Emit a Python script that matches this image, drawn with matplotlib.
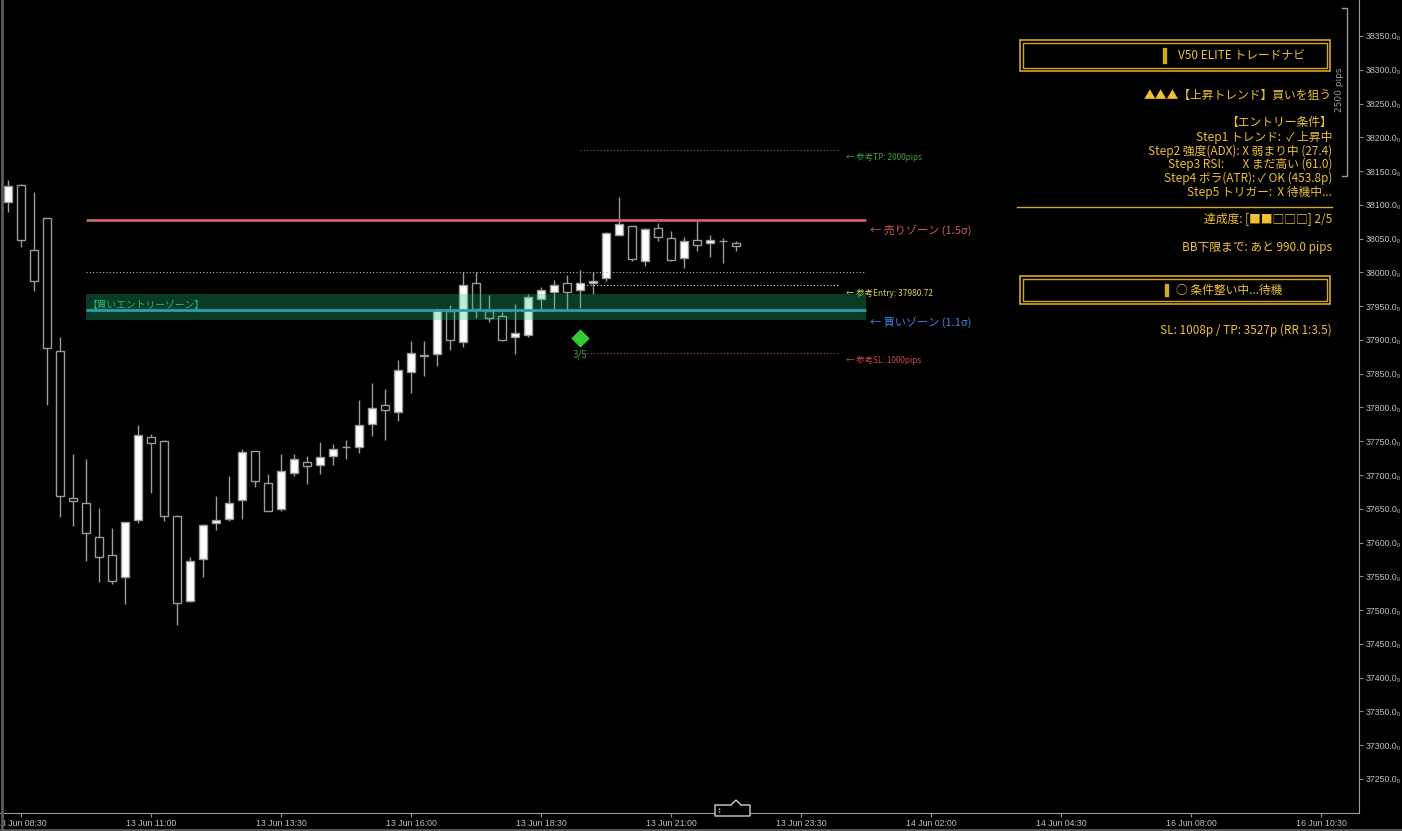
import matplotlib
matplotlib.use("Agg")
import matplotlib.pyplot as plt
from matplotlib.patches import Rectangle, Polygon
import numpy as np

plt.rcParams['font.family'] = ['Noto Sans CJK JP', 'DejaVu Sans']

# 15 min candles, 13 Jun 08:15 onwards
opens = [38104, 38130, 38033, 38080, 37883, 37666, 37659, 37608, 37581, 37549,
         37633, 37756, 37751, 37640, 37514, 37575, 37629, 37635, 37663, 37735,
         37688, 37650, 37703, 37720, 37715, 37728, 37741, 37741, 37775, 37803,
         37793, 37853, 37876, 37879, 37943, 37897, 37984, 37943, 37935, 37905,
         37908, 37960, 37971, 37984, 37974, 37984, 37991, 38056, 38068, 38017,
         38065, 38051, 38021, 38048, 38043, 38046, 38043]
highs = [38137, 38131, 38119, 38081, 37904, 37731, 37724, 37651, 37621, 37631,
         37774, 37761, 37752, 37641, 37578, 37627, 37669, 37699, 37739, 37736,
         37702, 37731, 37731, 37728, 37749, 37746, 37752, 37811, 37836, 37828,
         37871, 37898, 37898, 37948, 37952, 38001, 38001, 37967, 37941, 37953,
         37968, 37978, 37989, 37996, 38004, 38001, 38060, 38112, 38069, 38065,
         38073, 38061, 38053, 38076, 38056, 38051, 38046]
lows = [38090, 38038, 37973, 37803, 37638, 37625, 37573, 37542, 37538, 37509,
        37629, 37673, 37632, 37478, 37512, 37549, 37618, 37632, 37635, 37683,
        37646, 37647, 37698, 37686, 37701, 37715, 37723, 37733, 37758, 37752,
        37780, 37822, 37846, 37862, 37885, 37890, 37933, 37926, 37898, 37879,
        37905, 37945, 37945, 37945, 37948, 37968, 37988, 38056, 38017, 38010,
        38047, 38017, 38006, 38031, 38023, 38014, 38032]
closes = [38128, 38048, 37988, 37888, 37669, 37662, 37614, 37578, 37543, 37630,
          37759, 37748, 37639, 37510, 37573, 37626, 37633, 37658, 37734, 37691,
          37647, 37706, 37723, 37713, 37726, 37738, 37741, 37774, 37799, 37796,
          37855, 37880, 37877, 37944, 37900, 37981, 37946, 37933, 37900, 37911,
          37963, 37974, 37981, 37971, 37985, 37988, 38058, 38071, 38020, 38064,
          38053, 38018, 38046, 38040, 38048, 38046, 38039]

tick_pos = [1, 11, 21, 31, 41, 51, 61, 71, 81, 91, 101]
tick_labels = ["13 Jun 08:30", "13 Jun 11:00", "13 Jun 13:30", "13 Jun 16:00",
               "13 Jun 18:30", "13 Jun 21:00", "13 Jun 23:30", "14 Jun 02:00",
               "14 Jun 04:30", "16 Jun 08:00", "16 Jun 10:30"]
price_ticks = list(range(37250, 38351, 50))

sell_zone = 38077.6
buy_zone = 37944.8
buy_band_low, buy_band_high = 37930.0, 37967.6
round_level = 38000.0
entry = 37980.72
tp = entry + 200.0
sl = entry - 100.0
zone_start, zone_end = 6, 66
ref_start, ref_end = 44, 64
signal_bar, signal_price = 44, 37903

panel_lines = [
    ("▲▲▲【上昇トレンド】買いを狙う", 95),
    ("【エントリー条件】", 122),
    ("Step1 トレンド:  ✓ 上昇中", 137),
    ("Step2 強度(ADX): X 弱まり中 (27.4)", 151),
    ("Step3 RSI:       X まだ高い (61.0)", 164),
    ("Step4 ボラ(ATR): ✓ OK (453.8p)", 178),
    ("Step5 トリガー:  X 待機中...", 192),
    ("達成度: [■■□□□] 2/5", 219),
    ("BB下限まで: あと 990.0 pips", 248),
    ("SL: 1008p / TP: 3527p (RR 1:3.5)", 330),
]

gold = '#f0c030'
gold_line = '#d8a824'
gray = '#9a9a9a'
axis_font = ['Liberation Sans', 'DejaVu Sans']

fig = plt.figure(figsize=(14.02, 8.31), dpi=100, facecolor='black')
ax = fig.add_axes([0, 18 / 831, 1359 / 1402, 813 / 831], facecolor='black')

# candles
for i in range(len(opens)):
    o, h, l, c = opens[i], highs[i], lows[i], closes[i]
    ax.vlines(i, l, h, color=gray, lw=1, zorder=2)
    bottom = min(o, c)
    height = max(abs(c - o), 1.0)
    face = 'white' if c > o else 'black'
    ax.add_patch(Rectangle((i - 0.32, bottom), 0.64, height, facecolor=face,
                           edgecolor=gray, lw=1, zorder=3))

# zones and levels
ax.add_patch(Rectangle((zone_start, buy_band_low), zone_end - zone_start,
                       buy_band_high - buy_band_low, facecolor='#22c57e',
                       alpha=0.3, lw=0, zorder=5))
ax.hlines(sell_zone, zone_start, zone_end, color='#c86464', lw=2, zorder=6)
ax.hlines(buy_zone, zone_start, zone_end, color='#2a9fb0', lw=2, zorder=6)
ax.hlines(round_level, zone_start, zone_end, color='#bdbdbd', lw=0.8,
          linestyles=(0, (1, 2)), zorder=4)
ax.hlines(entry, ref_start, ref_end, color='#e6e6b0', lw=0.8, linestyles=(0, (1, 2)), zorder=4)
ax.hlines(tp, ref_start, ref_end, color='#3a9a3a', lw=0.8, linestyles=(0, (1, 2)), zorder=4)
ax.hlines(sl, ref_start, ref_end, color='#b05050', lw=0.8, linestyles=(0, (1, 2)), zorder=4)

ax.text(zone_start + 0.1, (buy_band_low + buy_band_high) / 2 + 3, "【買いエントリーゾーン】",
        color='#1fbf74', fontsize=7, va='center', ha='left', zorder=7)
ax.text(zone_end + 0.3, sell_zone - 15, "← 売りゾーン (1.5σ)", color='#d45a5a',
        fontsize=8, va='center', ha='left')
ax.text(zone_end + 0.3, buy_zone - 18, "← 買いゾーン (1.1σ)", color='#3a86e0',
        fontsize=8, va='center', ha='left')
ax.text(ref_end + 0.4, tp - 11, "← 参考TP: 2000pips", color='#3fa03f',
        fontsize=6, va='center', ha='left')
ax.text(ref_end + 0.4, entry - 11, f"← 参考Entry: {entry:.2f}", color='#d8d840',
        fontsize=6, va='center', ha='left')
ax.text(ref_end + 0.4, sl - 11, "← 参考SL: 1000pips", color='#c84a4a',
        fontsize=6, va='center', ha='left')

ax.scatter([signal_bar], [signal_price], marker='D', s=70, color='#33cc33', zorder=8)
ax.text(signal_bar, signal_price - 25, "3/5", color='#2faa2f', fontsize=7,
        ha='center', va='center')

ax.set_xlim(-0.64, 103.9)
ax.set_ylim(37199.6, 38403.3)
ax.set_xticks(tick_pos)
ax.set_xticklabels(tick_labels, family=axis_font)
ax.yaxis.tick_right()
ax.set_yticks(price_ticks)
ax.set_yticklabels([f"{v:.1f}₀" for v in price_ticks], family=axis_font)
ax.tick_params(axis='both', colors='#8a8a8a', labelcolor='#c0c0c0', labelsize=6.3,
               length=3, width=0.8)
ax.tick_params(axis='y', pad=1.5)
ax.tick_params(axis='x', pad=1.5)
for s in ['left', 'top']:
    ax.spines[s].set_visible(False)
for s in ['right', 'bottom']:
    ax.spines[s].set_color('#9a9a9a')

# info panel overlay in pixel coordinates
ov = fig.add_axes([0, 0, 1, 1])
ov.set_xlim(0, 1402)
ov.set_ylim(831, 0)
ov.axis('off')
ov.patch.set_alpha(0)

for y0, h, label, cx in [(40, 31, "V50 ELITE トレードナビ", 1241), (276, 28, "○ 条件整い中...待機", 1229)]:
    ov.add_patch(Rectangle((1020, y0), 310, h, fill=False, ec=gold_line, lw=1.2))
    ov.add_patch(Rectangle((1023, y0 + 3), 304, h - 6, fill=False, ec=gold_line, lw=1.0))
    ov.add_patch(Rectangle((1163 if cx == 1241 else 1165, y0 + 8), 3, h - 16, color=gold_line))
    ov.text(cx, y0 + h / 2, label, color=gold, fontsize=8.5, ha='center', va='center')

for txt, y in panel_lines:
    ov.text(1332, y, txt, color=gold, fontsize=8.5, ha='right', va='center')
ov.plot([1017, 1332], [207, 207], color=gold_line, lw=1)

# pips bracket
ov.plot([1342, 1347, 1347, 1342], [8, 8, 176, 176], color='#9a9a9a', lw=1)
ov.text(1339, 90, "2500 pips", color='#9a9a9a', fontsize=6.5, rotation=90,
        ha='center', va='center', family='DejaVu Sans')

# borders and scroll tab
ov.plot([1.5, 1.5], [0, 831], color='#5a5a5a', lw=2)
ov.plot([0, 1402], [830, 830], color='#5a5a5a', lw=2)
ov.add_patch(Polygon([(715, 816), (715, 805), (731, 805), (736, 800), (741, 805),
                      (750, 805), (750, 816)], closed=True, fill=True,
                     facecolor='black', ec='#cfcfcf', lw=1))
ov.plot([719, 719], [808, 813], color='#cfcfcf', lw=1, ls=(0, (1, 1)))

fig.savefig("out.png", dpi=100, facecolor='black')
